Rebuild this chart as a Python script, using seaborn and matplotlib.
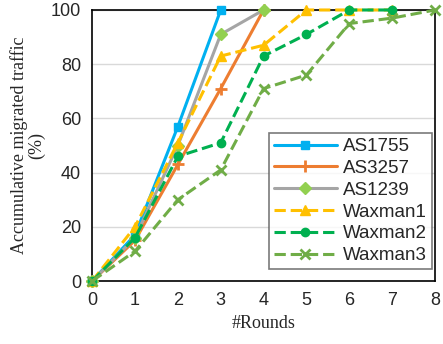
import pandas as pd
import matplotlib.pyplot as plt
import seaborn as sns

# Accumulative migrated traffic per round
rounds = [0, 1, 2, 3, 4, 5, 6, 7, 8]
as1755 = [0, 17, 57, 100]
as3257 = [0, 15, 43, 71, 100]
as1239 = [0, 16, 50, 91, 100]
waxman1 = [0, 20, 51, 83, 87, 100, 100, 100]
waxman2 = [0, 16, 46, 51, 83, 91, 100, 100]
waxman3 = [0, 11, 30, 41, 71, 76, 95, 97, 100]

series = {
    'AS1755': as1755, 'AS3257': as3257, 'AS1239': as1239,
    'Waxman1': waxman1, 'Waxman2': waxman2, 'Waxman3': waxman3,
}
rows = []
for name, vals in series.items():
    for r, v in zip(rounds, vals):
        rows.append({'Round': r, 'Traffic': v, 'Topology': name})
df = pd.DataFrame(rows)

styles = {
    'AS1755': dict(color='#00B0F0', ls='-', marker='s', mfc='#00B0F0', ms=6),
    'AS3257': dict(color='#ED7D31', ls='-', marker='+', mfc='#ED7D31', ms=8),
    'AS1239': dict(color='#A5A5A5', ls='-', marker='D', mfc='#92D050', ms=6),
    'Waxman1': dict(color='#FFC000', ls='--', marker='^', mfc='#FFC000', ms=7),
    'Waxman2': dict(color='#00B050', ls='--', marker='o', mfc='#00B050', ms=6),
    'Waxman3': dict(color='#70AD47', ls='--', marker='x', mfc='#70AD47', ms=7),
}

sns.set_style('white')
plt.rcParams['font.family'] = ['Liberation Sans', 'DejaVu Sans']

fig, ax = plt.subplots(figsize=(4.43, 3.44), dpi=100)
fig.subplots_adjust(left=0.208, right=0.982, top=0.971, bottom=0.183)

for name, st in styles.items():
    sub = df[df['Topology'] == name]
    sns.lineplot(data=sub, x='Round', y='Traffic', ax=ax, color=st['color'],
                 linestyle=st['ls'], marker=st['marker'], markersize=st['ms'],
                 markerfacecolor=st['mfc'], markeredgecolor=st['mfc'],
                 markeredgewidth=2 if st['marker'] in '+x' else 1,
                 linewidth=2.2, label=name, zorder=3, clip_on=False)

ax.set_xlim(0, 8)
ax.set_ylim(0, 100)
ax.set_xticks(rounds)
ax.set_yticks([0, 20, 40, 60, 80, 100])
ax.yaxis.grid(True, color='#D9D9D9', linewidth=1)
ax.tick_params(labelsize=13, length=0, pad=8)
for sp in ax.spines.values():
    sp.set_color('black')
    sp.set_linewidth(1.2)
    sp.set_zorder(2)

ax.set_xlabel('#Rounds', fontsize=13, family='Liberation Serif')
ax.set_ylabel('Accumulative migrated traffic\n(%)', fontsize=13,
              family='Liberation Serif', linespacing=1.0)

leg = ax.legend(loc='lower right', bbox_to_anchor=(0.99, 0.045), fontsize=13.5,
                frameon=True, fancybox=False, handlelength=3.4,
                borderpad=0.25, labelspacing=0.25, handletextpad=0.3,
                borderaxespad=0)
leg.get_frame().set_edgecolor('#595959')
leg.get_frame().set_linewidth(1.2)
leg.set_zorder(5)

fig.savefig('out.png', dpi=100)
